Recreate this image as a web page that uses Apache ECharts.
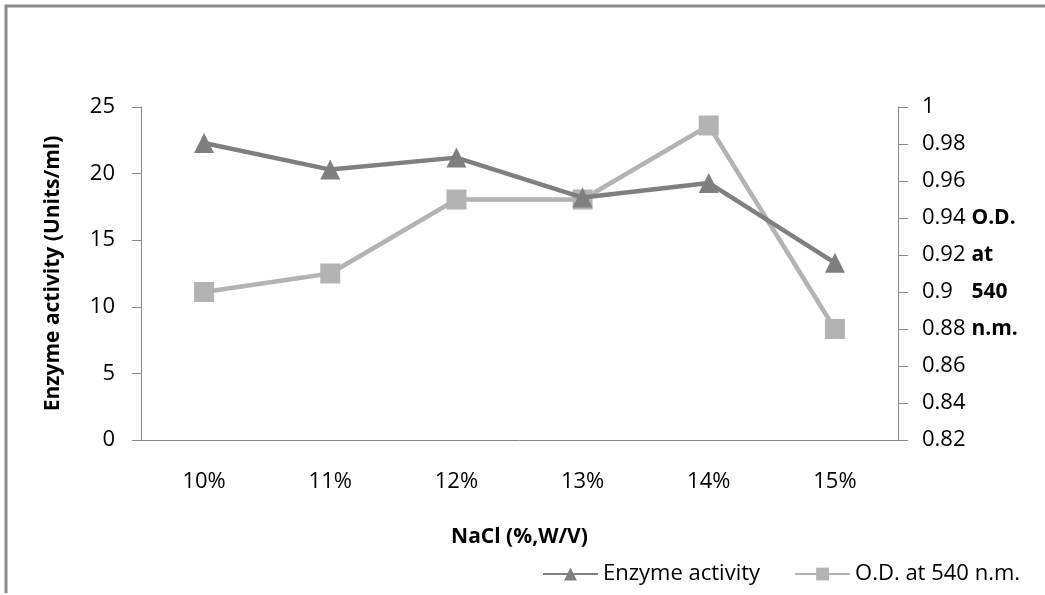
<!DOCTYPE html>
<html>
<head>
<meta charset="utf-8">
<script src="https://cdn.jsdelivr.net/npm/echarts@6/dist/echarts.min.js"></script>
<style>
  html, body { margin: 0; padding: 0; background: #fff; }
  #chart { width: 1045px; height: 595px; }
</style>
</head>
<body>
<div id="chart"></div>
<script>
// NaCl concentrations tested
const categories = ['10%', '11%', '12%', '13%', '14%', '15%'];
// Enzyme activity (Units/ml), left axis
const enzymeActivity = [22.3, 20.3, 21.2, 18.2, 19.3, 13.3];
// Optical density at 540 n.m., right axis
const odValues = [0.90, 0.91, 0.95, 0.95, 0.99, 0.88];

const FONT = '"Open Sans", Lato, sans-serif';
const AXIS_GRAY = '#888888';

const chart = echarts.init(document.getElementById('chart'));
chart.setOption({
  animation: false,
  textStyle: { fontFamily: FONT },
  graphic: [{
    type: 'polyline',
    shape: { points: [[6, 593], [6, 6], [1045, 6]] },
    style: { stroke: '#8a8a8a', lineWidth: 3, fill: null }
  }],
  grid: { left: 141, right: 147, top: 107, bottom: 155 },
  legend: {
    left: 537, top: 558,
    itemWidth: 55, itemHeight: 16, itemGap: 34,
    textStyle: { fontFamily: FONT, fontSize: 22, color: '#000' },
    data: ['Enzyme activity', 'O.D. at 540 n.m.']
  },
  xAxis: {
    type: 'category',
    data: categories,
    boundaryGap: true,
    name: 'NaCl (%,W/V)',
    nameLocation: 'middle',
    nameGap: 87,
    nameTextStyle: { fontFamily: FONT, fontSize: 21, fontWeight: 'bold', color: '#000' },
    axisLine: { lineStyle: { color: AXIS_GRAY, width: 1 } },
    axisTick: { show: false },
    axisLabel: { fontSize: 22, color: '#000', margin: 31 }
  },
  yAxis: [{
    type: 'value',
    min: 0, max: 25, interval: 5,
    name: 'Enzyme activity (Units/ml)',
    nameLocation: 'middle',
    nameGap: 77,
    nameTextStyle: { fontFamily: FONT, fontSize: 21, fontWeight: 'bold', color: '#000' },
    axisLine: { show: true, lineStyle: { color: AXIS_GRAY, width: 1 } },
    axisTick: { show: true, length: 9, lineStyle: { color: AXIS_GRAY } },
    axisLabel: { fontSize: 22, color: '#000', margin: 26 },
    splitLine: { show: false }
  }, {
    type: 'value',
    min: 0.82, max: 1, interval: 0.02,
    position: 'right',
    name: 'O.D.\nat\n540\nn.m.',
    nameLocation: 'middle',
    nameRotate: 0,
    nameGap: 71,
    nameTextStyle: { fontFamily: FONT, fontSize: 21, fontWeight: 'bold', color: '#000', align: 'left', lineHeight: 37 },
    axisLine: { show: true, lineStyle: { color: AXIS_GRAY, width: 1 } },
    axisTick: { show: true, length: 10, lineStyle: { color: AXIS_GRAY } },
    axisLabel: { fontSize: 22, color: '#000', margin: 24 },
    splitLine: { show: false }
  }],
  series: [{
    name: 'Enzyme activity',
    type: 'line',
    yAxisIndex: 0,
    data: enzymeActivity,
    symbol: 'triangle',
    symbolSize: 20,
    itemStyle: { color: '#7f7f7f' },
    lineStyle: { color: '#7f7f7f', width: 4.5 },
    z: 3
  }, {
    name: 'O.D. at 540 n.m.',
    type: 'line',
    yAxisIndex: 1,
    data: odValues,
    symbol: 'rect',
    symbolSize: 20,
    itemStyle: { color: '#b3b3b3' },
    lineStyle: { color: '#b3b3b3', width: 4.5 },
    z: 2
  }]
});
</script>
</body>
</html>
